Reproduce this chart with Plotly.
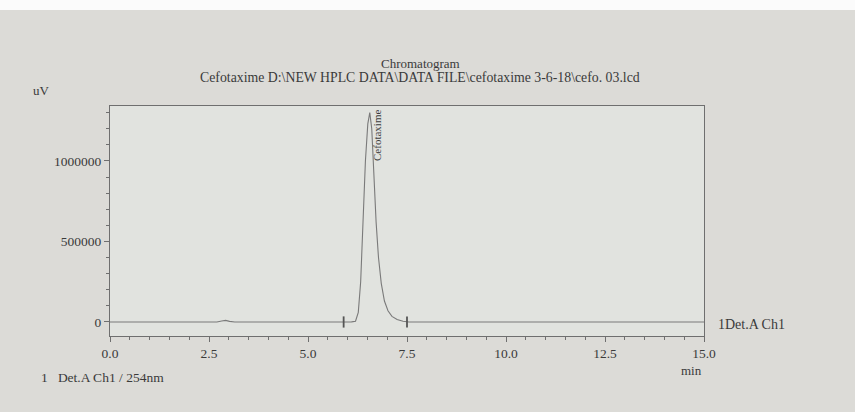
import plotly.graph_objects as go

# ---- data ----
time_min = [0.0, 1.0, 2.0, 2.7, 2.82, 2.92, 3.02, 3.15, 4.0, 5.0, 5.9, 6.1, 6.2, 6.27, 6.33,
            6.39, 6.45, 6.51, 6.56, 6.61, 6.66, 6.72, 6.78, 6.85, 6.93, 7.02, 7.12,
            7.25, 7.40, 7.55, 9.0, 11.0, 13.0, 15.0]
signal_uv = [0, 0, 0, 0, 6000, 10000, 4000, 0, 0, 0, 0, 1000, 5000, 60000, 250000,
             650000, 1000000, 1230000, 1300000, 1200000, 900000, 620000, 400000, 240000,
             130000, 70000, 35000, 15000, 5000, 0, 0, 0, 0, 0]
peak_marks_min = [5.9, 7.5]
peak_marks_uv = [0, 0]
peak_name = "Cefotaxime"
peak_label_min = 6.76
peak_label_uv = 1330000

x_tick_vals = [0.0, 2.5, 5.0, 7.5, 10.0, 12.5, 15.0]
x_tick_text = ["0.0", "2.5", "5.0", "7.5", "10.0", "12.5", "15.0"]
y_tick_vals = [0, 500000, 1000000]
y_tick_text = ["0", "500000", "1000000"]

title_text = "Chromatogram"
subtitle_text = "Cefotaxime D:\\NEW HPLC DATA\\DATA FILE\\cefotaxime 3-6-18\\cefo. 03.lcd"
channel_text = "1Det.A Ch1"
legend_text = "1&nbsp;&nbsp;&nbsp;Det.A Ch1 / 254nm"

FONT = "Liberation Serif"
TXT = "#3a3a3a"
AX = "#6f6f6f"

fig = go.Figure()
fig.add_trace(go.Scatter(x=time_min, y=signal_uv, mode="lines",
                         line=dict(color="#7a7a7a", width=1.1), showlegend=False,
                         hoverinfo="skip"))
fig.add_trace(go.Scatter(x=peak_marks_min, y=peak_marks_uv, mode="markers",
                         marker=dict(symbol="line-ns", size=8,
                                     line=dict(color="#555555", width=1.8)),
                         showlegend=False, hoverinfo="skip", cliponaxis=False))

axis_common = dict(showline=True, linecolor=AX, linewidth=1, mirror=True,
                   showgrid=False, zeroline=False, ticks="outside", ticklen=5,
                   tickcolor=AX, tickfont=dict(family=FONT, size=13.5, color=TXT))

fig.update_xaxes(range=[0, 15], tickvals=x_tick_vals, ticktext=x_tick_text,
                 minor=dict(dtick=0.5, ticks="outside", ticklen=3, tickcolor=AX),
                 **axis_common)
fig.update_yaxes(range=[-87000, 1341000], tickvals=y_tick_vals, ticktext=y_tick_text,
                 minor=dict(dtick=100000, tick0=0, ticks="outside", ticklen=3, tickcolor=AX),
                 **axis_common)

ann = [
    dict(text=title_text, x=0.522, y=1, xref="paper", yref="paper", yanchor="bottom",
         yshift=33, showarrow=False, font=dict(family=FONT, size=13, color=TXT)),
    dict(text=subtitle_text, x=0.522, y=1, xref="paper", yref="paper", yanchor="bottom",
         yshift=19, showarrow=False, font=dict(family=FONT, size=13.8, color=TXT)),
    dict(text="uV", x=-0.115, y=1, xref="paper", yref="paper", xanchor="center",
         yanchor="bottom", yshift=6, showarrow=False,
         font=dict(family=FONT, size=13, color=TXT)),
    dict(text="min", x=1, y=0, xref="paper", yref="paper", xanchor="right",
         yanchor="top", yshift=-25, showarrow=False,
         font=dict(family=FONT, size=13, color=TXT)),
    dict(text=channel_text, x=15, y=0, xref="x", yref="y", xanchor="left",
         yanchor="middle", xshift=12, yshift=-3, showarrow=False,
         font=dict(family=FONT, size=14, color=TXT)),
    dict(text=legend_text, x=-0.12, y=0, xref="paper", yref="paper", xanchor="left",
         yanchor="top", yshift=-32, showarrow=False,
         font=dict(family=FONT, size=13.5, color=TXT)),
    dict(text=peak_name, x=peak_label_min, y=peak_label_uv, xref="x", yref="y",
         textangle=-90, xanchor="center", yanchor="top", showarrow=False,
         font=dict(family=FONT, size=11, color="#3c3c3c")),
]

shapes = [
    dict(type="rect", xref="paper", yref="paper", x0=-0.3, x1=1.3,
         y0=1 + 96 / 230, y1=1 + 110 / 230, fillcolor="#fbfbfb", line=dict(width=0),
         layer="below"),
]

fig.update_layout(width=855, height=412,
                  margin=dict(l=110, r=151, t=106, b=76),
                  paper_bgcolor="#dcdbd7", plot_bgcolor="#e1e3df",
                  annotations=ann, shapes=shapes,
                  font=dict(family=FONT, color=TXT))

fig.write_html("out.html", config={"displayModeBar": False},
               post_script="document.body.style.margin='0';document.body.style.padding='0';")
